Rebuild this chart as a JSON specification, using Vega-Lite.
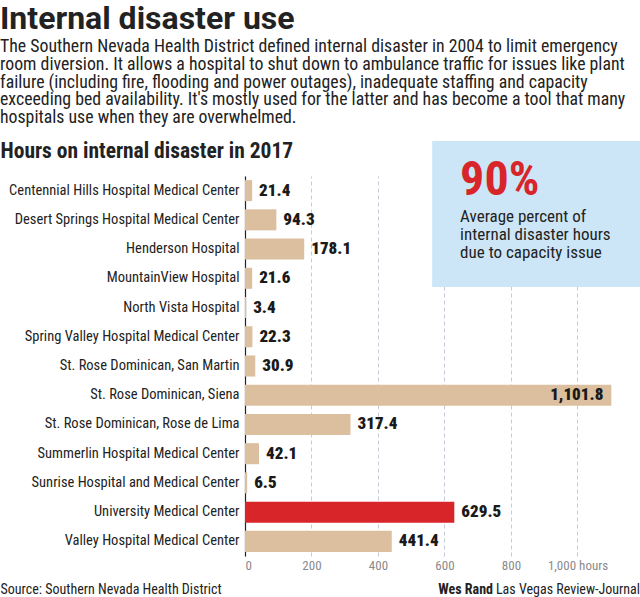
{
  "$schema": "https://vega.github.io/schema/vega-lite/v6.json",
  "width": 395,
  "height": 380,
  "autosize": {"type": "none"},
  "padding": {"left": 245, "top": 176, "right": 0, "bottom": 41},
  "background": "white",
  "config": {
    "font": "Roboto Condensed, Liberation Sans Narrow, DejaVu Sans Condensed, sans-serif",
    "view": {"stroke": null}
  },
  "title": {
    "text": "Internal disaster use",
    "subtitle": [
      "The Southern Nevada Health District defined internal disaster in 2004 to limit emergency",
      "room diversion. It allows a hospital to shut down to ambulance traffic for issues like plant",
      "failure (including fire, flooding and power outages), inadequate staffing and capacity",
      "exceeding bed availability. It's mostly used for the latter and has become a tool that many",
      "hospitals use when they are overwhelmed."
    ],
    "anchor": "start",
    "frame": "group",
    "dx": -245,
    "font": "Roboto, Roboto Condensed, sans-serif",
    "fontSize": 32,
    "fontWeight": "bold",
    "color": "#222222",
    "subtitleFontSize": 17.8,
    "subtitleColor": "#222222",
    "subtitleLineHeight": 17.8,
    "subtitlePadding": 2,
    "offset": 12
  },
  "datasets": {
    "hospitals": [
      {"name": "Centennial Hills Hospital Medical Center", "hours": 21.4},
      {"name": "Desert Springs Hospital Medical Center", "hours": 94.3},
      {"name": "Henderson Hospital", "hours": 178.1},
      {"name": "MountainView Hospital", "hours": 21.6},
      {"name": "North Vista Hospital", "hours": 3.4},
      {"name": "Spring Valley Hospital Medical Center", "hours": 22.3},
      {"name": "St. Rose Dominican, San Martin", "hours": 30.9},
      {"name": "St. Rose Dominican, Siena", "hours": 1101.8},
      {"name": "St. Rose Dominican, Rose de Lima", "hours": 317.4},
      {"name": "Summerlin Hospital Medical Center", "hours": 42.1},
      {"name": "Sunrise Hospital and Medical Center", "hours": 6.5},
      {"name": "University Medical Center", "hours": 629.5},
      {"name": "Valley Hospital Medical Center", "hours": 441.4}
    ],
    "notes": [
      {"kind": "box", "x": 563, "x2": 1188, "y": -1.2, "y2": 3.8},
      {"kind": "stat", "label": "90%", "x": 647, "y": 0.65},
      {"kind": "line", "label": "Average percent of", "x": 647, "y": 1.56},
      {"kind": "line", "label": "internal disaster hours", "x": 647, "y": 2.18},
      {"kind": "line", "label": "due to capacity issue", "x": 647, "y": 2.82},
      {"kind": "author", "label": "Wes Rand", "x": 746, "y": 14.3},
      {"kind": "org", "label": "Las Vegas Review-Journal", "x": 1188, "y": 14.3}
    ]
  },
  "resolve": {"scale": {"y": "independent"}},
  "layer": [
    {
      "data": {"name": "hospitals"},
      "encoding": {
        "y": {
          "field": "name",
          "type": "nominal",
          "sort": null,
          "scale": {"paddingInner": 0.28, "paddingOuter": 0.14},
          "axis": {
            "title": "Hours on internal disaster in 2017",
            "titleAngle": 0,
            "titleAlign": "left",
            "titleBaseline": "alphabetic",
            "titleX": -245,
            "titleY": -19,
            "titleFontSize": 21.5,
            "titleFontWeight": "bold",
            "titleColor": "#222222",
            "ticks": false,
            "labelPadding": 6,
            "labelFontSize": 14.5,
            "labelColor": "#222222",
            "labelLimit": 300,
            "domainColor": "#222222",
            "domainWidth": 1.2
          }
        },
        "x": {
          "field": "hours",
          "type": "quantitative",
          "scale": {"domain": [0, 1188], "nice": false},
          "axis": {
            "values": [0, 200, 400, 600, 800, 1000],
            "labelExpr": "datum.value == 1000 ? '1,000 hours' : datum.label",
            "title": "Source: Southern Nevada Health District",
            "titleX": -245,
            "titleY": 37,
            "titleAlign": "left",
            "titleAnchor": null,
            "titleBaseline": "alphabetic",
            "titleFontSize": 14,
            "titleFontWeight": "normal",
            "titleColor": "#222222",
            "domain": false,
            "ticks": false,
            "labelColor": "#8a8a8a",
            "labelFontSize": 13,
            "labelPadding": 3,
            "grid": true,
            "gridDash": [4, 3],
            "gridColor": "#c5ccd8"
          }
        }
      },
      "layer": [
        {
          "mark": {"type": "bar"},
          "encoding": {
            "color": {
              "condition": {"test": "datum.name === 'University Medical Center'", "value": "#d7252a"},
              "value": "#dbbf9f"
            }
          }
        },
        {
          "transform": [{"filter": "datum.hours < 1000"}],
          "mark": {"type": "text", "align": "left", "baseline": "middle", "dx": 7, "fontSize": 17, "fontWeight": 900, "color": "#1a1a1a"},
          "encoding": {"text": {"field": "hours", "type": "quantitative", "format": ",.1f"}}
        },
        {
          "transform": [{"filter": "datum.hours >= 1000"}],
          "mark": {"type": "text", "align": "right", "baseline": "middle", "dx": -8, "fontSize": 17, "fontWeight": 900, "color": "#1a1a1a"},
          "encoding": {"text": {"field": "hours", "type": "quantitative", "format": ",.1f"}}
        }
      ]
    },
    {
      "data": {"name": "notes"},
      "encoding": {
        "x": {"field": "x", "type": "quantitative", "scale": {"domain": [0, 1188], "nice": false}},
        "y": {"field": "y", "type": "quantitative", "scale": {"domain": [0, 13], "reverse": true, "nice": false, "zero": false}, "axis": null}
      },
      "layer": [
        {
          "transform": [{"filter": "datum.kind === 'box'"}],
          "mark": {"type": "rect", "color": "#cce6f8"},
          "encoding": {"x2": {"field": "x2"}, "y2": {"field": "y2"}}
        },
        {
          "transform": [{"filter": "datum.kind === 'stat'"}],
          "mark": {"type": "text", "align": "left", "baseline": "alphabetic", "fontSize": 48, "fontWeight": "bold", "color": "#d7252a"},
          "encoding": {"text": {"field": "label"}}
        },
        {
          "transform": [{"filter": "datum.kind === 'line'"}],
          "mark": {"type": "text", "align": "left", "baseline": "alphabetic", "fontSize": 17, "color": "#222222"},
          "encoding": {"text": {"field": "label"}}
        },
        {
          "transform": [{"filter": "datum.kind === 'author'"}],
          "mark": {"type": "text", "align": "right", "baseline": "alphabetic", "fontSize": 14, "fontWeight": "bold", "color": "#222222"},
          "encoding": {"text": {"field": "label"}}
        },
        {
          "transform": [{"filter": "datum.kind === 'org'"}],
          "mark": {"type": "text", "align": "right", "baseline": "alphabetic", "fontSize": 14, "color": "#222222"},
          "encoding": {"text": {"field": "label"}}
        }
      ]
    }
  ]
}
